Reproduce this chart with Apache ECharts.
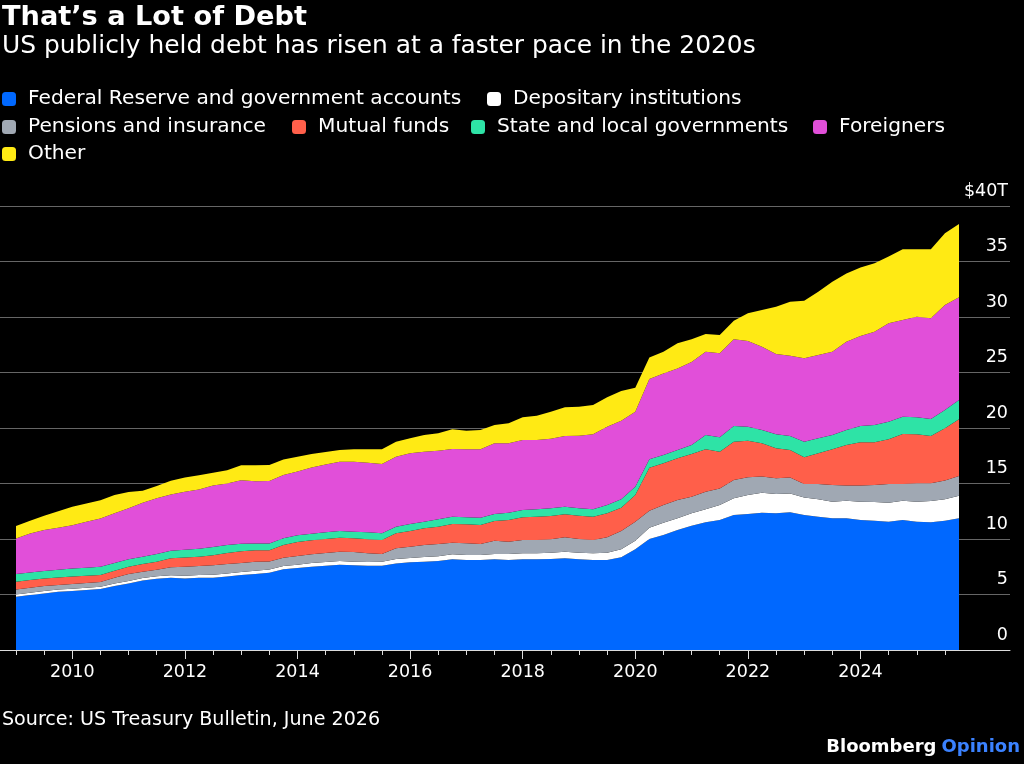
<!DOCTYPE html>
<html>
<head>
<meta charset="utf-8">
<title>That's a Lot of Debt</title>
<style>
html, body { margin: 0; padding: 0; background: #000; }
#main { width: 1024px; height: 764px; }
</style>
</head>
<body>
<div id="main"></div>
<script src="https://cdn.jsdelivr.net/npm/echarts@6/dist/echarts.min.js"></script>
<script>
// quarterly, 2009 Q1 .. 2025 Q4, trillions of dollars
var quarters = [];
for (var y = 2009; y <= 2025; y++) {
	for (var q = 1; q <= 4; q++) quarters.push(y + ' Q' + q);
}

var fedReserve = [4.80, 4.95, 5.10, 5.25, 5.31, 5.40, 5.49, 5.76, 6.00, 6.27, 6.42, 6.51, 6.45, 6.51, 6.51, 6.63, 6.75, 6.84,
	6.96, 7.27, 7.39, 7.51, 7.59, 7.68, 7.63, 7.59, 7.59, 7.80, 7.90, 7.96, 8.02, 8.17, 8.11, 8.11, 8.17,
	8.11, 8.17, 8.17, 8.20, 8.26, 8.17, 8.11, 8.11, 8.35, 9.07, 10.00, 10.36, 10.81, 11.20, 11.50, 11.71, 12.16,
	12.25, 12.37, 12.31, 12.40, 12.16, 12.01, 11.86, 11.86, 11.71, 11.65, 11.56, 11.71, 11.56, 11.50, 11.65, 11.86];
var depositary = [0.21, 0.21, 0.21, 0.21, 0.21, 0.21, 0.21, 0.22, 0.22, 0.22, 0.22, 0.22, 0.24, 0.25, 0.26, 0.27, 0.28, 0.29,
	0.30, 0.30, 0.29, 0.33, 0.34, 0.34, 0.33, 0.34, 0.37, 0.40, 0.39, 0.42, 0.42, 0.45, 0.45, 0.45, 0.48,
	0.54, 0.54, 0.54, 0.57, 0.60, 0.60, 0.60, 0.66, 0.72, 0.78, 1.02, 1.11, 1.05, 1.11, 1.17, 1.35, 1.50,
	1.71, 1.80, 1.74, 1.71, 1.59, 1.56, 1.50, 1.59, 1.65, 1.68, 1.71, 1.74, 1.80, 1.92, 1.92, 2.04];
var pensions = [0.45, 0.45, 0.45, 0.39, 0.42, 0.42, 0.42, 0.54, 0.63, 0.57, 0.60, 0.72, 0.81, 0.81, 0.87, 0.84, 0.81, 0.81,
	0.72, 0.75, 0.79, 0.78, 0.81, 0.84, 0.87, 0.78, 0.69, 0.96, 1.02, 1.08, 1.11, 1.05, 1.05, 0.99, 1.20,
	1.11, 1.20, 1.20, 1.20, 1.29, 1.23, 1.20, 1.38, 1.65, 1.71, 1.53, 1.59, 1.65, 1.50, 1.59, 1.50, 1.65,
	1.60, 1.45, 1.42, 1.42, 1.21, 1.39, 1.51, 1.36, 1.45, 1.54, 1.69, 1.51, 1.66, 1.60, 1.69, 1.78];
var mutualFunds = [0.69, 0.69, 0.69, 0.69, 0.69, 0.66, 0.63, 0.63, 0.66, 0.69, 0.72, 0.81, 0.84, 0.84, 0.90, 0.99, 1.05, 1.05,
	1.00, 1.15, 1.26, 1.26, 1.26, 1.26, 1.23, 1.26, 1.26, 1.35, 1.41, 1.50, 1.56, 1.68, 1.71, 1.71, 1.77,
	1.95, 2.04, 2.10, 2.10, 2.07, 2.10, 2.10, 2.16, 2.10, 2.40, 3.87, 3.76, 3.76, 3.85, 3.82, 3.31, 3.46,
	3.30, 3.00, 2.70, 2.49, 2.40, 2.76, 3.21, 3.66, 3.90, 3.84, 4.02, 4.50, 4.41, 4.26, 4.71, 5.10];
var stateLocal = [0.69, 0.69, 0.66, 0.69, 0.72, 0.72, 0.75, 0.69, 0.66, 0.66, 0.69, 0.69, 0.69, 0.72, 0.75, 0.72, 0.69, 0.60,
	0.62, 0.60, 0.60, 0.60, 0.60, 0.60, 0.60, 0.63, 0.60, 0.60, 0.63, 0.60, 0.66, 0.66, 0.63, 0.66, 0.63,
	0.66, 0.66, 0.66, 0.69, 0.69, 0.66, 0.66, 0.75, 0.75, 0.75, 0.76, 0.75, 0.75, 0.81, 1.29, 1.29, 1.41,
	1.26, 1.20, 1.26, 1.26, 1.41, 1.35, 1.29, 1.35, 1.47, 1.56, 1.59, 1.56, 1.53, 1.53, 1.65, 1.74];
var foreigners = [3.21, 3.51, 3.69, 3.78, 3.90, 4.14, 4.35, 4.47, 4.59, 4.86, 5.01, 5.07, 5.22, 5.33, 5.53, 5.55, 5.72, 5.62,
	5.62, 5.69, 5.76, 5.97, 6.12, 6.24, 6.30, 6.27, 6.24, 6.30, 6.37, 6.31, 6.19, 6.10, 6.13, 6.16, 6.37,
	6.25, 6.31, 6.25, 6.28, 6.37, 6.55, 6.76, 7.06, 7.09, 6.76, 7.23, 7.35, 7.35, 7.47, 7.51, 7.57, 7.81,
	7.72, 7.51, 7.24, 7.24, 7.51, 7.51, 7.51, 7.96, 8.11, 8.41, 8.86, 8.71, 9.07, 9.07, 9.46, 9.25];
var other = [1.11, 1.14, 1.29, 1.50, 1.65, 1.65, 1.65, 1.65, 1.47, 1.08, 1.11, 1.23, 1.29, 1.29, 1.14, 1.20, 1.35, 1.44,
	1.44, 1.41, 1.32, 1.21, 1.12, 1.06, 1.12, 1.21, 1.33, 1.36, 1.35, 1.50, 1.56, 1.77, 1.68, 1.74, 1.65,
	1.80, 2.04, 2.19, 2.43, 2.58, 2.61, 2.64, 2.64, 2.67, 2.16, 1.95, 1.96, 2.26, 2.05, 1.59, 1.65, 1.68,
	2.49, 3.30, 4.26, 4.86, 5.19, 5.70, 6.30, 6.15, 6.18, 6.16, 6.01, 6.37, 6.07, 6.22, 6.46, 6.61];

var names = ['Federal Reserve and government accounts', 'Depositary institutions', 'Pensions and insurance',
	'Mutual funds', 'State and local governments', 'Foreigners', 'Other'];
var colors = ['#0068ff', '#ffffff', '#a0a8b3', '#ff5f4a', '#2ee3a6', '#e14fd9', '#ffea14'];
var values = [fedReserve, depositary, pensions, mutualFunds, stateLocal, foreigners, other];

var FONT = 'DejaVu Sans';

// legend spots: [left, top]
var legendPos = [[2, 89], [487, 89], [2, 117], [292, 117], [471, 117], [813, 117], [2, 144]];
var legends = names.map(function (n, i) {
	return {
		data: [n],
		left: legendPos[i][0],
		top: legendPos[i][1],
		padding: 0,
		icon: 'roundRect',
		itemWidth: 14,
		itemHeight: 14,
		selectedMode: false,
		textStyle: { color: '#fff', fontSize: 20.2, fontFamily: FONT, lineHeight: 14, padding: [0, 0, 0, 7] }
	};
});

var series = names.map(function (n, i) {
	return {
		name: n,
		type: 'line',
		stack: 'debt',
		xAxisIndex: 0,
		yAxisIndex: 0,
		symbol: 'none',
		lineStyle: { width: 0 },
		itemStyle: { color: colors[i] },
		areaStyle: { color: colors[i], opacity: 1 },
		data: values[i]
	};
});

var option = {
	backgroundColor: '#000',
	animation: false,
	title: [
		{ text: 'That’s a Lot of Debt', left: 2, top: 4, padding: 0,
		  textStyle: { color: '#fff', fontSize: 27.2, fontWeight: 'bold', fontFamily: FONT } },
		{ text: 'US publicly held debt has risen at a faster pace in the 2020s', left: 2, top: 34, padding: 0,
		  textStyle: { color: '#fff', fontSize: 24.9, fontWeight: 'normal', fontFamily: FONT } },
		{ text: 'Source: US Treasury Bulletin, June 2026', left: 2, top: 711, padding: 0,
		  textStyle: { color: '#fff', fontSize: 19.1, fontWeight: 'normal', fontFamily: FONT } },
		{ text: '{a|Bloomberg} {b|Opinion}', right: 4, top: 738, padding: 0,
		  textStyle: { rich: {
			a: { color: '#fff', fontSize: 18, fontWeight: 'bold', fontFamily: FONT },
			b: { color: '#3b82ff', fontSize: 18, fontWeight: 'bold', fontFamily: FONT }
		  } } }
	],
	legend: legends,
	grid: [
		{ left: 16, right: 65, top: 206, bottom: 114 },
		{ left: 0, right: 14, top: 206, bottom: 114 }
	],
	xAxis: [
		{
			type: 'category', gridIndex: 0, data: quarters, boundaryGap: false, position: 'bottom',
			axisLine: { show: false },
			axisTick: { interval: function (i) { return i % 2 === 0; }, length: 5, lineStyle: { color: '#ddd' } },
			axisLabel: { show: false }
		},
		{
			type: 'category', gridIndex: 0, data: quarters, boundaryGap: false, position: 'bottom',
			axisLine: { show: false },
			axisTick: { interval: function (i) { return i % 8 === 4; }, length: 9, lineStyle: { color: '#ddd' } },
			axisLabel: {
				interval: function (i) { return i % 8 === 4; },
				formatter: function (v) { return v.slice(0, 4); },
				color: '#fff', fontSize: 17.5, fontFamily: FONT, margin: 13
			}
		},
		{
			type: 'value', gridIndex: 1, min: 0, max: 1, position: 'bottom',
			axisLine: { show: true, lineStyle: { color: '#ddd', width: 1 } },
			axisTick: { show: false }, axisLabel: { show: false }, splitLine: { show: false }
		}
	],
	yAxis: [
		{ type: 'value', gridIndex: 0, min: 0, max: 40, interval: 5, show: false },
		{
			type: 'value', gridIndex: 1, min: 0, max: 40, interval: 5, position: 'right',
			axisLine: { show: false }, axisTick: { show: false },
			splitLine: { show: true, lineStyle: { color: '#666', width: 1 } },
			axisLabel: {
				inside: true, margin: 2, align: 'right', verticalAlign: 'bottom',
				padding: [0, 0, 6, 0],
				color: '#fff', fontSize: 17.5, fontFamily: FONT,
				formatter: function (v) { return v === 40 ? '$40T' : v; }
			}
		}
	],
	series: series
};

var chart = echarts.init(document.getElementById('main'));
chart.setOption(option);
</script>
</body>
</html>
